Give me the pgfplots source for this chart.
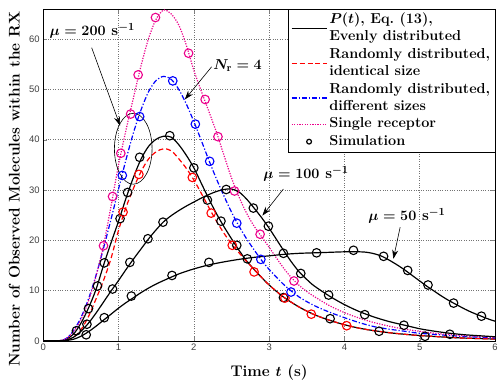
\documentclass[border=0pt]{standalone}
\usepackage{fontspec}
\usepackage{amsmath}
\usepackage{pgfplots}
\pgfplotsset{compat=1.18}
\usetikzlibrary{arrows.meta}
\newfontfamily\ticksf{Liberation Sans}
\newcommand{\lblfont}{\fontsize{15.5}{18}\selectfont\bfseries\boldmath}
\newcommand{\legfont}{\fontsize{14.5}{17}\selectfont\bfseries\boldmath}
\begin{document}
\begin{tikzpicture}
\begin{axis}[
  scale only axis, width=452bp, height=332bp,
  xmin=0, xmax=6, ymin=0, ymax=66,
  xtick={0,1,2,3,4,5,6}, ytick={0,10,20,30,40,50,60},
  grid=major, major grid style={dotted, line width=0.6pt, black!55},
  tick align=inside, major tick length=4bp,
  axis line style={line width=0.6pt},
  /pgf/number format/assume math mode=true,
  ticklabel style={font=\ticksf\fontsize{9.5}{10}\selectfont, text=black!75},
  xlabel={Time $t$ (s)},
  ylabel={Number of Observed Molecules within the RX},
  label style={font=\lblfont},
  xlabel style={at={(axis description cs:0.5,-0.097)}, anchor=center},
  ylabel style={at={(axis description cs:-0.064,0.457)}, anchor=center},
  legend style={at={(rel axis cs:1,1)}, anchor=north east, draw=black, line width=0.5pt,
    fill=white, font=\legfont, inner xsep=2.5bp, inner ysep=2bp,
    nodes={inner ysep=1bp, inner xsep=2bp, text height=11.3bp, text depth=4.1bp, fill=none, draw=none}, row sep=0pt},
  legend cell align=left,
]
% legend entries
\addlegendimage{empty legend}
\addlegendentry{$P(t)$, Eq.~(13),}
\addlegendimage{legend image code/.code={\draw[overlay, draw=black, solid, line width=1.4pt] (0bp,8.7bp) -- (35bp,8.7bp);}}
\addlegendentry{Evenly distributed}
\addlegendimage{empty legend}
\addlegendentry{Randomly distributed,}
\addlegendimage{legend image code/.code={\draw[overlay, draw=red, line width=1.4pt, dash pattern=on 5pt off 3pt] (0bp,8.7bp) -- (35bp,8.7bp);}}
\addlegendentry{identical size}
\addlegendimage{empty legend}
\addlegendentry{Randomly distributed,}
\addlegendimage{legend image code/.code={\draw[overlay, draw=blue, line width=1.4pt, dash pattern=on 5pt off 2pt on 1.2pt off 2pt] (0bp,8.7bp) -- (35bp,8.7bp);}}
\addlegendentry{different sizes}
\addlegendimage{legend image code/.code={\draw[draw=magenta, line width=1.4pt, dash pattern=on 1.2pt off 1.4pt] (0bp,0bp) -- (35bp,0bp);}}
\addlegendentry{Single receptor}
\addlegendimage{legend image code/.code={\draw[draw=black, solid, line width=1.2pt] (17.5bp,0bp) circle[radius=2.4bp];}}
\addlegendentry{Simulation}
% P(t), evenly distributed, mu = 200
\addplot[black, line width=1.2pt, smooth, forget plot] coordinates {
(0,0) (0.2,0) (0.3,0.3) (0.4,1.3) (0.5,3.5) (0.6,6.5) (0.7,10.2) (0.8,15.0) (0.9,19.5) (1.0,23.8) (1.1,28.4) (1.2,32.6) (1.3,36.2) (1.4,38.7) (1.5,40.1) (1.6,40.7) (1.7,40.5) (1.8,39.0) (1.9,36.9) (2.0,34.4) (2.1,31.3) (2.2,28.2) (2.3,25.3) (2.4,22.7) (2.5,20.3) (2.6,18.0) (2.7,15.9) (2.8,14.2) (2.9,12.6) (3.0,11.1) (3.1,9.8) (3.2,8.6) (3.4,6.7) (3.6,5.2) (3.8,4.1) (4.0,3.2) (4.2,2.5) (4.4,2.0) (4.6,1.6) (4.8,1.3) (5.0,1.05) (5.5,0.6) (6.0,0.35)};
% randomly distributed, identical size
\addplot[color=red, line width=1.2pt, dash pattern=on 5pt off 3pt, smooth, forget plot] coordinates {
(0,0) (0.2,0) (0.3,0.1) (0.4,0.7) (0.5,2.2) (0.6,4.8) (0.7,8.3) (0.8,12.0) (0.9,16.4) (1.0,22.0) (1.1,26.6) (1.2,30.4) (1.3,33.7) (1.4,36.2) (1.5,37.6) (1.6,38.2) (1.7,37.8) (1.8,36.2) (1.9,34.3) (2.0,32.0) (2.1,29.3) (2.2,26.5) (2.3,23.8) (2.4,21.4) (2.5,19.3) (2.6,17.5) (2.7,15.8) (2.8,14.2) (2.9,12.6) (3.0,11.1) (3.1,9.8) (3.2,8.6) (3.4,6.7) (3.6,5.2) (3.8,4.1) (4.0,3.2) (4.2,2.5) (4.4,2.0) (4.6,1.6) (4.8,1.3) (5.0,1.05) (5.5,0.6) (6.0,0.35)};
% randomly distributed, different sizes
\addplot[color=blue, line width=1.2pt, dash pattern=on 5pt off 2pt on 1.2pt off 2pt, smooth, forget plot] coordinates {
(0,0) (0.2,0) (0.3,0.4) (0.4,2.0) (0.5,4.6) (0.6,8.3) (0.7,13.0) (0.8,18.4) (0.9,24.2) (1.0,30.2) (1.1,36.1) (1.2,41.5) (1.3,46.0) (1.4,49.6) (1.5,51.8) (1.6,52.6) (1.7,52.0) (1.8,50.0) (1.9,47.1) (2.0,43.6) (2.1,39.8) (2.2,35.9) (2.3,32.2) (2.4,28.8) (2.5,25.6) (2.6,22.8) (2.7,20.3) (2.8,18.1) (2.9,16.0) (3.0,14.2) (3.2,11.1) (3.4,8.7) (3.6,7.0) (3.8,5.7) (4.0,4.6) (4.2,3.6) (4.4,2.8) (4.6,2.3) (4.8,1.9) (5.0,1.5) (5.5,0.95) (6.0,0.55)};
% single receptor
\addplot[color=magenta, line width=1.2pt, dash pattern=on 1.2pt off 1.4pt, smooth, forget plot] coordinates {
(0,0) (0.2,0) (0.3,0.4) (0.4,1.8) (0.5,4.2) (0.6,7.9) (0.7,12.8) (0.8,19.0) (0.9,26.8) (1.0,35.0) (1.1,42.0) (1.2,48.5) (1.3,54.8) (1.4,60.2) (1.5,64.0) (1.6,65.8) (1.7,65.0) (1.8,62.8) (1.9,58.8) (2.0,53.8) (2.1,49.6) (2.2,45.6) (2.3,41.5) (2.4,36.9) (2.5,32.4) (2.6,28.6) (2.7,25.4) (2.8,22.8) (2.9,20.7) (3.0,18.6) (3.1,16.4) (3.2,14.3) (3.3,12.5) (3.4,11.0) (3.5,9.8) (3.6,8.8) (3.8,7.0) (4.0,5.6) (4.2,4.5) (4.4,3.6) (4.6,2.9) (4.8,2.3) (5.0,1.9) (5.2,1.5) (5.5,1.1) (6.0,0.7)};
% mu = 100
\addplot[black, line width=1.2pt, smooth, forget plot] coordinates {
(0,0) (0.2,0) (0.3,0.1) (0.4,0.7) (0.5,1.9) (0.6,3.5) (0.7,5.5) (0.8,7.7) (0.9,9.9) (1.0,12.0) (1.1,14.2) (1.2,16.3) (1.3,18.3) (1.4,20.3) (1.5,22.1) (1.6,23.7) (1.7,24.9) (1.8,25.9) (1.9,26.8) (2.0,27.6) (2.1,28.4) (2.2,29.1) (2.3,29.7) (2.4,30.1) (2.5,30.2) (2.6,29.6) (2.7,28.2) (2.8,26.4) (2.9,24.5) (3.0,22.4) (3.1,20.1) (3.2,17.8) (3.3,15.6) (3.4,13.7) (3.5,12.2) (3.6,10.9) (3.8,8.9) (4.0,7.2) (4.2,5.8) (4.4,4.7) (4.6,3.8) (4.8,3.1) (5.0,2.4) (5.2,1.9) (5.4,1.5) (5.6,1.2) (5.8,1.0) (6.0,0.8)};
% mu = 50
\addplot[black, line width=1.2pt, smooth, forget plot] coordinates {
(0,0) (0.2,0) (0.3,0.05) (0.4,0.3) (0.5,0.9) (0.6,1.8) (0.7,2.9) (0.8,4.1) (0.9,5.3) (1.0,6.5) (1.1,7.6) (1.2,8.6) (1.3,9.6) (1.4,10.5) (1.5,11.3) (1.6,12.0) (1.8,13.3) (2.0,14.3) (2.2,15.1) (2.4,15.7) (2.6,16.2) (2.8,16.6) (3.0,16.9) (3.2,17.2) (3.4,17.4) (3.6,17.5) (3.8,17.6) (4.0,17.7) (4.2,17.7) (4.3,17.6) (4.4,17.3) (4.5,16.8) (4.6,16.0) (4.7,15.1) (4.8,14.1) (4.9,13.0) (5.0,11.9) (5.1,10.8) (5.2,9.8) (5.3,8.8) (5.4,7.9) (5.5,7.1) (5.6,6.3) (5.7,5.6) (5.8,5.0) (5.9,4.4) (6.0,3.9)};
% simulation, black (three mu values)
\addplot[black, only marks, mark=o, mark size=4.3bp, mark options={line width=1.1pt}, forget plot] coordinates {
(0.44,2.0) (0.60,6.4) (0.72,10.9) (0.81,15.5) (1.02,24.3) (1.12,29.5) (1.28,36.5) (1.68,40.8) (2.0,34.4) (2.18,28.0) (2.36,23.8) (2.57,19.0) (3.19,8.6) (3.81,4.4) (4.46,1.9) (5.07,0.9)
(0.58,3.3) (0.92,10.3) (1.15,15.6) (1.39,20.3) (1.59,23.6) (2.43,30.1) (2.79,26.4) (2.99,22.8) (3.42,13.4) (3.79,9.1) (4.27,5.2) (4.79,3.1) (5.40,1.3)
(0.57,1.2) (0.81,4.6) (1.17,8.9) (1.71,13.0) (2.2,15.6) (2.71,16.3) (3.19,17.4) (3.63,17.5) (4.12,18.0) (4.52,16.8) (4.84,14.0) (5.11,11.1) (5.45,7.5) (5.82,4.9)};
% simulation, red
\addplot[red, only marks, mark=o, mark size=4.3bp, mark options={line width=1.1pt}, forget plot] coordinates {
(1.06,25.6) (1.27,33.1) (1.98,32.5) (2.23,25.4) (2.51,19.0) (2.80,13.7) (3.21,8.5) (3.56,5.3) (4.03,3.0)};
% simulation, blue
\addplot[blue, only marks, mark=o, mark size=4.3bp, mark options={line width=1.1pt}, forget plot] coordinates {
(1.05,32.9) (1.28,44.6) (1.72,51.7) (2.02,43.1) (2.21,35.7) (2.57,23.4) (2.89,16.2) (3.29,9.7)};
% simulation, magenta
\addplot[magenta, only marks, mark=o, mark size=4.3bp, mark options={line width=1.1pt}, forget plot] coordinates {
(0.80,18.9) (0.92,28.7) (1.03,37.3) (1.16,45.1) (1.26,52.9) (1.49,64.3) (1.93,57.2) (2.15,48.0) (2.32,40.6) (2.54,29.8) (2.88,21.2) (3.33,11.9)};
% annotations
\draw[line width=0.6pt] (axis cs:1.195,38.2) ellipse [x radius=0.25, y radius=7.05];
\node[font=\lblfont] at (axis cs:0.65,61.6) {$\mu = 200$ s$^{-1}$};
\draw[line width=0.6pt, -{Stealth[length=9pt,width=6pt]}] (axis cs:0.643,58.3) -- (axis cs:1.02,42.8);
\node[font=\lblfont] at (axis cs:2.58,54.7) {$N_{\mathrm{r}} = 4$};
\draw[line width=0.6pt, -{Stealth[length=9pt,width=6pt]}] (axis cs:2.236,54.5) -- (axis cs:1.88,48.0);
\node[font=\lblfont] at (axis cs:3.49,33.2) {$\mu = 100$ s$^{-1}$};
\draw[line width=0.6pt, -{Stealth[length=9pt,width=6pt]}] (axis cs:3.19,30.2) -- (axis cs:2.91,24.9);
\node[font=\lblfont] at (axis cs:4.83,24.9) {$\mu = 50$ s$^{-1}$};
\draw[line width=0.6pt, -{Stealth[length=9pt,width=6pt]}] (axis cs:4.74,22.6) -- (axis cs:4.65,16.3);
\end{axis}
\pgfresetboundingbox
\path ([shift={(-43.3bp,-44.3bp)}]current axis.south west) rectangle ([shift={(3bp,9bp)}]current axis.north east);
\end{tikzpicture}
\end{document}
